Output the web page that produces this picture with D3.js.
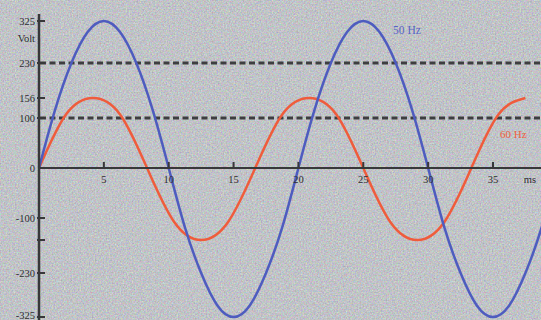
<!DOCTYPE html>
<html>
<head>
<meta charset="utf-8">
<script src="https://cdn.jsdelivr.net/npm/d3@7"></script>
<style>
  body { margin: 0; background: #bcbec2; }
  svg text { font-family: "Liberation Serif", "DejaVu Serif", serif; }
</style>
</head>
<body>
<svg id="sine-chart" width="541" height="320"></svg>
<script>
// 50 Hz curve, read every 1.25 ms (volts)
const blueTimes = [0, 1.25, 2.5, 3.75, 5, 6.25, 7.5, 8.75, 10, 11.25, 12.5, 13.75, 15, 16.25, 17.5, 18.75,
  20, 21.25, 22.5, 23.75, 25, 26.25, 27.5, 28.75, 30, 31.25, 32.5, 33.75, 35, 36.25, 37.5, 38.75, 40];
const blueVolts = [0, 124, 230, 300, 325, 300, 230, 124, 0, -124, -230, -300, -325, -300, -230, -124,
  0, 124, 230, 300, 325, 300, 230, 124, 0, -124, -230, -300, -325, -300, -230, -124, 0];

// 60 Hz curve, read every ~2.08 ms (volts)
const orangeTimes = [0, 2.08, 4.17, 6.25, 8.33, 10.42, 12.5, 14.58, 16.67, 18.75, 20.83, 22.92,
  25, 27.08, 29.17, 31.25, 33.33, 35.42, 37.5];
const orangeVolts = [0, 110, 156, 110, 0, -110, -156, -110, 0, 110, 156, 110,
  0, -110, -156, -110, 0, 110, 156];

const xTicks = [5, 10, 15, 20, 25, 30, 35];
const yTicks = [325, 230, 156, 100, 0, -100, -156, -230, -325];
const yTickLabels = ["325", "230", "156", "100", "0", "-100", "", "-230", "-325"];
const dashedLevels = [230, 100];

const svg = d3.select("svg#sine-chart");
const W = 541, H = 320;

// grainy paper background
const defs = svg.append("defs");
const grain = defs.append("filter").attr("id", "grain")
  .attr("x", 0).attr("y", 0).attr("width", "100%").attr("height", "100%")
  .attr("color-interpolation-filters", "sRGB");
grain.append("feTurbulence")
  .attr("type", "fractalNoise")
  .attr("baseFrequency", 0.65)
  .attr("numOctaves", 2)
  .attr("seed", 7);
grain.append("feColorMatrix")
  .attr("type", "matrix")
  .attr("values", "0.36 0 0 0 0.575  0 0.36 0 0 0.585  0 0 0.36 0 0.6  0 0 0 0 1");

svg.append("rect").attr("width", W).attr("height", H).attr("fill", "#bcbec2");
svg.append("rect").attr("width", W).attr("height", H).attr("filter", "url(#grain)");

const x = d3.scaleLinear().domain([0, 35]).range([39, 493]);
// the printed tick marks are not quite evenly spaced, so the scale follows them
const y = d3.scaleLinear()
  .domain([-325, -230, -156, -100, 0, 100, 156, 230, 325])
  .range([317, 273, 240, 218, 168, 118, 98, 63, 21]);

const ink = "#38383a";
const textInk = "#2e2e30";

// dashed reference levels
svg.selectAll("line.level")
  .data(dashedLevels)
  .enter().append("line")
  .attr("class", "level")
  .attr("x1", x(0) + 1).attr("x2", W)
  .attr("y1", d => y(d)).attr("y2", d => y(d))
  .attr("stroke", "#3e3e40")
  .attr("stroke-width", 3)
  .attr("stroke-dasharray", "6,3.5");

// curves
const line = d3.line()
  .x(d => x(d[0]))
  .y(d => y(d[1]))
  .curve(d3.curveNatural);

svg.append("path")
  .datum(orangeTimes.map((t, i) => [t, orangeVolts[i]]))
  .attr("fill", "none")
  .attr("stroke", "#ef5c3c")
  .attr("stroke-width", 2.5)
  .attr("d", line);

svg.append("path")
  .datum(blueTimes.map((t, i) => [t, blueVolts[i]]))
  .attr("fill", "none")
  .attr("stroke", "#4e5cbf")
  .attr("stroke-width", 2.5)
  .attr("d", line);

// x axis
const xAxis = svg.append("g");
xAxis.append("line")
  .attr("x1", x(0)).attr("x2", W)
  .attr("y1", y(0)).attr("y2", y(0))
  .attr("stroke", ink).attr("stroke-width", 2.2);
xAxis.selectAll("line.tick")
  .data(xTicks)
  .enter().append("line")
  .attr("x1", d => x(d)).attr("x2", d => x(d))
  .attr("y1", y(0) - 6).attr("y2", y(0))
  .attr("stroke", ink).attr("stroke-width", 2);
xAxis.selectAll("text")
  .data(xTicks)
  .enter().append("text")
  .attr("x", d => x(d))
  .attr("y", y(0) + 15)
  .attr("text-anchor", "middle")
  .attr("font-size", 10.5)
  .attr("fill", textInk)
  .text(d => d);
xAxis.append("text")
  .attr("x", 530).attr("y", y(0) + 15)
  .attr("text-anchor", "middle")
  .attr("font-size", 10.5)
  .attr("fill", textInk)
  .text("ms");

// y axis
const yAxis = svg.append("g");
yAxis.append("line")
  .attr("x1", x(0)).attr("x2", x(0))
  .attr("y1", 14).attr("y2", H)
  .attr("stroke", ink).attr("stroke-width", 2.5);
yAxis.selectAll("line.tick")
  .data(yTicks.filter(d => d !== 0))
  .enter().append("line")
  .attr("x1", x(0) - 2).attr("x2", x(0) + 6)
  .attr("y1", d => y(d)).attr("y2", d => y(d))
  .attr("stroke", ink).attr("stroke-width", 2);
yAxis.selectAll("text")
  .data(yTicks)
  .enter().append("text")
  .attr("x", 35)
  .attr("y", d => Math.min(y(d) + 3.5, H - 1))
  .attr("text-anchor", "end")
  .attr("font-size", 10.5)
  .attr("fill", textInk)
  .text((d, i) => yTickLabels[i]);
yAxis.append("text")
  .attr("x", 35).attr("y", 42)
  .attr("text-anchor", "end")
  .attr("font-size", 10.5)
  .attr("fill", textInk)
  .text("Volt");

// series labels
svg.append("text")
  .attr("x", 393).attr("y", 34)
  .attr("font-size", 11.5)
  .attr("fill", "#5864c4")
  .text("50 Hz");
svg.append("text")
  .attr("x", 500).attr("y", 138)
  .attr("font-size", 11)
  .attr("fill", "#ef6040")
  .text("60 Hz");
</script>
</body>
</html>
